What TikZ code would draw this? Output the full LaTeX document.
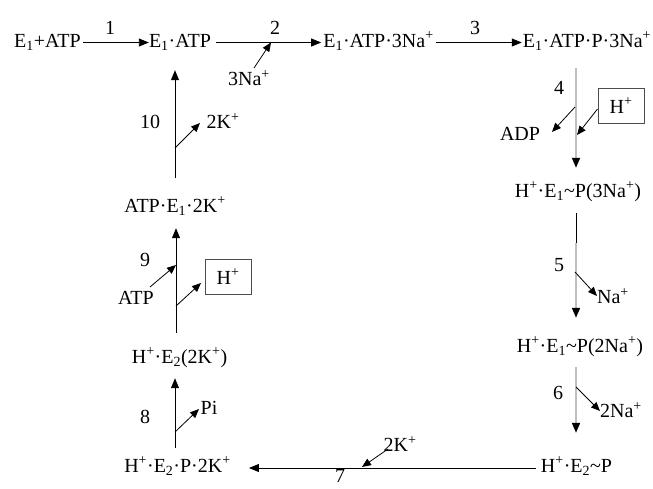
\documentclass[tikz,border=0pt]{standalone}
\usepackage{fontspec}
\setmainfont{Liberation Serif}
\usetikzlibrary{arrows.meta,calc}
\newcommand{\sub}[1]{\textsubscript{#1}}
\newcommand{\sps}[1]{\textsuperscript{#1}}
\begin{document}
\begin{tikzpicture}[x=1pt,y=-1pt,
  every node/.style={font=\fontsize{20}{24}\selectfont, text=black},
  st/.style={inner sep=0pt, text height=14pt, text depth=5pt, anchor=base},
  lab/.style={inner sep=0pt},
  arr/.style={draw=black, line width=0.9pt, -{Triangle[length=10pt,width=8pt]}},
  garr/.style={draw=gray!50, line width=1.8pt, -{Triangle[length=10pt,width=8pt,color=black]}},
  sarr/.style={draw=black, line width=0.8pt, -{Triangle[length=9pt,width=7.5pt]}},
  hbox/.style={draw=gray!60!black, line width=1pt, minimum width=46pt, minimum height=35pt, inner sep=0pt}
]
\useasboundingbox (0,0) rectangle (653,488);
\coordinate (xr) at (576,0);
\coordinate (xl) at (175,0);

% main states
\node[st] (n1) at (47.5,47) {E\sub{1}+ATP};
\node[st] (n2) at (180,47) {E\sub{1}·ATP};
\node[st] (n3) at (378.5,47) {E\sub{1}·ATP·3Na\sps{+}};
\node[st] (n4) at (587,47) {E\sub{1}·ATP·P·3Na\sps{+}};
\node[st] (n5) at (578,197) {H\sps{+}·E\sub{1}\textasciitilde P(3Na\sps{+})};
\node[st] (n6) at (580,352) {H\sps{+}·E\sub{1}\textasciitilde P(2Na\sps{+})};
\node[st] (n7) at (576.5,472.5) {H\sps{+}·E\sub{2}\textasciitilde P};
\node[st] (n8) at (177.5,472.5) {H\sps{+}·E\sub{2}·P·2K\sps{+}};
\node[st] (n9) at (179.5,363) {H\sps{+}·E\sub{2}(2K\sps{+})};
\node[st] (n10) at (175,212) {ATP·E\sub{1}·2K\sps{+}};

% step numbers
\node[lab] (l1) at (110,27.5) {1};
\node[lab] (l2) at (275,27.5) {2};
\node[lab] (l3) at (475,27.5) {3};
\node[lab] (l4) at (559,88) {4};
\node[lab] (l5) at (559,265) {5};
\node[lab] (l6) at (558,393) {6};
\node[lab] (l7) at (340,476) {7};
\node[lab] (l8) at (145,417) {8};
\node[lab] (l9) at (145,260) {9};
\node[lab] (l10) at (150,122) {10};

% side species
\node[lab] (na3) at (249,78) {3Na\sps{+}};
\node[lab] (adp) at (520,134) {ADP};
\node[hbox] (hb1) at (621,105.5) {H\sps{+}};
\node[lab] (na1) at (613,296) {Na\sps{+}};
\node[lab] (na2) at (621,410) {2Na\sps{+}};
\node[lab] (k2b) at (400,444) {2K\sps{+}};
\node[lab] (pi) at (209,408) {Pi};
\node[lab] (atp) at (136,298) {ATP};
\node[hbox] (hb2) at (228,276.5) {H\sps{+}};
\node[lab] (k2t) at (223,121) {2K\sps{+}};

% main arrows
\draw[arr, shorten <=2pt] (n1.east) -- (n2.west);
\draw[arr, shorten <=5pt, shorten >=2pt] (n2.east) -- (n3.west);
\draw[arr, shorten <=2pt, shorten >=1pt] (n3.east) -- (n4.west);
\draw[garr, shorten <=16pt, shorten >=15pt] (n4.south -| xr) -- (n5.north -| xr);
\draw[black, line width=0.8pt, shorten <=11pt, shorten >=95pt] (n5.south -| xr) -- (n6.north -| xr);
\draw[garr, shorten <=41pt, shorten >=20pt] (n5.south -| xr) -- (n6.north -| xr);
\draw[garr, shorten <=10pt, shorten >=25.5pt] (n6.south -| xr) -- (n7.north -| xr);
\draw[arr, shorten <=5pt, shorten >=18pt] (n7.west) -- (n8.east);
\draw[arr, shorten <=10.5pt, shorten >=10pt] (n8.north -| xl) -- (n9.south -| xl);
\draw[arr, shorten <=16pt, shorten >=11pt] ([xshift=1pt]n9.north -| xl) -- ([xshift=1pt]n10.south -| xl);
\draw[arr, shorten <=20pt, shorten >=18pt] (n10.north -| xl) -- (n2.south -| xl);

% junction points on main arrows
\coordinate (j2) at (271,42.5);
\coordinate (j4a) at (575,107);
\coordinate (j4b) at (577,135);
\coordinate (j5) at (575,272);
\coordinate (j6) at (576,387);
\coordinate (j7) at (362,467);
\coordinate (j8) at (175,432);
\coordinate (j9a) at (176,265);
\coordinate (j9b) at (176,306);
\coordinate (j10) at (175,148);

% side arrows
\draw[sarr] (254,68) -- (j2);
\draw[sarr] (j4a) -- (552,132);
\draw[sarr] (hb1.west |- 0,109) -- (j4b);
\draw[sarr] (j5) -- (597,296);
\draw[sarr] (j6) -- (600,411);
\draw[sarr] (388,449) -- (j7);
\draw[sarr] (j8) -- (199,409);
\draw[sarr] (150,287) -- (j9a);
\draw[sarr] (j9b) -- (201,283);
\draw[sarr] (j10) -- (200,123);
\end{tikzpicture}
\end{document}
